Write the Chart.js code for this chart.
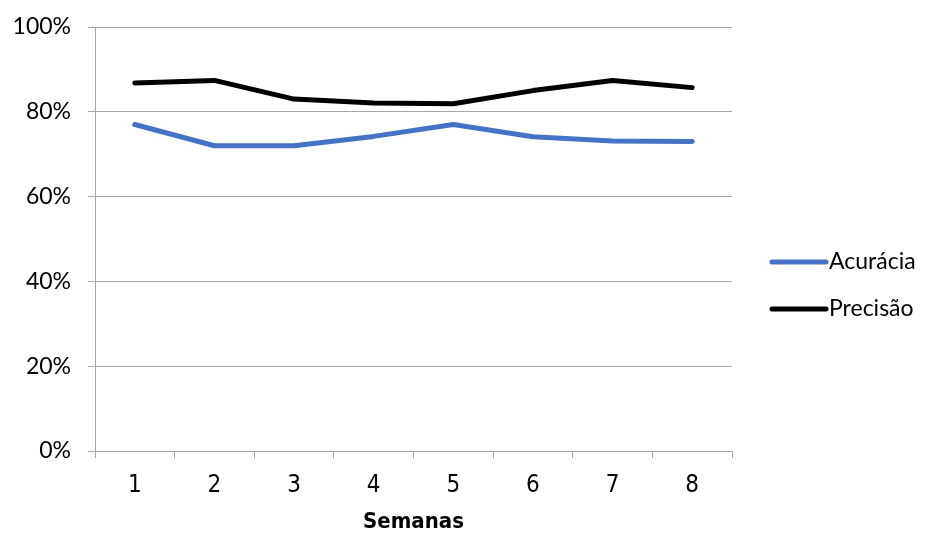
<!DOCTYPE html>
<html>
<head>
<meta charset="utf-8">
<script src="https://cdn.jsdelivr.net/npm/chart.js@4/dist/chart.umd.min.js"></script>
<style>
  html, body { margin: 0; padding: 0; background: #ffffff; }
  #wrap { width: 925px; height: 536px; }
</style>
</head>
<body>
<div id="wrap"><canvas id="c" width="925" height="536"></canvas></div>
<script>
// Weekly accuracy and precision (percent)
const semanas = ['1', '2', '3', '4', '5', '6', '7', '8'];
const acuracia = [77, 72, 72, 74.2, 77, 74.1, 73.1, 73];
const precisao = [86.8, 87.4, 83, 82.1, 81.9, 85, 87.4, 85.7];
const seriesNames = ['Acurácia', 'Precisão'];
const seriesColors = ['#4472C4', '#000000'];
const yTickValues = [0, 20, 40, 60, 80, 100];

const gridGray = '#A6A6A6';
const labelFont = "Lato, 'Open Sans', sans-serif";
const narrowFont = "'Liberation Sans Narrow', 'DejaVu Sans Condensed', sans-serif";

// Legend on the right: short line sample followed by the series name
const sideLegend = {
  id: 'sideLegend',
  afterDraw(chart) {
    const { ctx, chartArea } = chart;
    const x0 = chartArea.right + 40;
    const sample = 54;
    const rows = [chartArea.top + 235, chartArea.top + 282];
    chart.data.datasets.forEach((ds, i) => {
      const y = rows[i];
      ctx.save();
      ctx.strokeStyle = ds.borderColor;
      ctx.lineWidth = 5;
      ctx.lineCap = 'round';
      ctx.beginPath();
      ctx.moveTo(x0, y);
      ctx.lineTo(x0 + sample, y);
      ctx.stroke();
      ctx.fillStyle = '#000000';
      ctx.font = "23px " + labelFont;
      ctx.textBaseline = 'middle';
      ctx.textAlign = 'left';
      ctx.fillText(ds.label, x0 + sample + 3, y);
      ctx.restore();
    });
  }
};

new Chart(document.getElementById('c'), {
  type: 'line',
  data: {
    labels: semanas,
    datasets: [
      {
        label: seriesNames[0],
        data: acuracia,
        borderColor: seriesColors[0],
        backgroundColor: seriesColors[0],
        borderWidth: 5,
        borderCapStyle: 'round',
        borderJoinStyle: 'round',
        pointRadius: 0,
        tension: 0
      },
      {
        label: seriesNames[1],
        data: precisao,
        borderColor: seriesColors[1],
        backgroundColor: seriesColors[1],
        borderWidth: 5,
        borderCapStyle: 'round',
        borderJoinStyle: 'round',
        pointRadius: 0,
        tension: 0
      }
    ]
  },
  options: {
    responsive: false,
    devicePixelRatio: 1,
    animation: false,
    layout: { padding: { left: 0, right: 193, top: 27, bottom: 0 } },
    plugins: {
      legend: { display: false },
      tooltip: { enabled: false }
    },
    scales: {
      x: {
        offset: true,
        afterFit(scale) { scale.height = 85; },
        grid: {
          display: true,
          drawOnChartArea: false,
          drawTicks: true,
          offset: true,
          tickLength: 7,
          color: gridGray,
          lineWidth: 1
        },
        border: { display: true, color: gridGray, width: 1 },
        ticks: {
          color: '#000000',
          padding: 13,
          font: { family: narrowFont, size: 24 }
        },
        title: {
          display: true,
          text: 'Semanas',
          color: '#000000',
          font: { family: narrowFont, size: 22, weight: 'bold' },
          padding: { top: 0, bottom: 1 }
        }
      },
      y: {
        min: 0,
        max: 100,
        afterFit(scale) { scale.width = 95; },
        afterBuildTicks(scale) { scale.ticks = yTickValues.map(v => ({ value: v })); },
        grid: {
          color: gridGray,
          lineWidth: 1,
          drawTicks: true,
          tickLength: 7
        },
        border: { display: true, color: gridGray, width: 1 },
        ticks: {
          color: '#000000',
          padding: 17,
          font: { family: labelFont, size: 23, lineHeight: 0.8 },
          callback: v => v + '%'
        }
      }
    }
  },
  plugins: [sideLegend]
});
</script>
</body>
</html>
